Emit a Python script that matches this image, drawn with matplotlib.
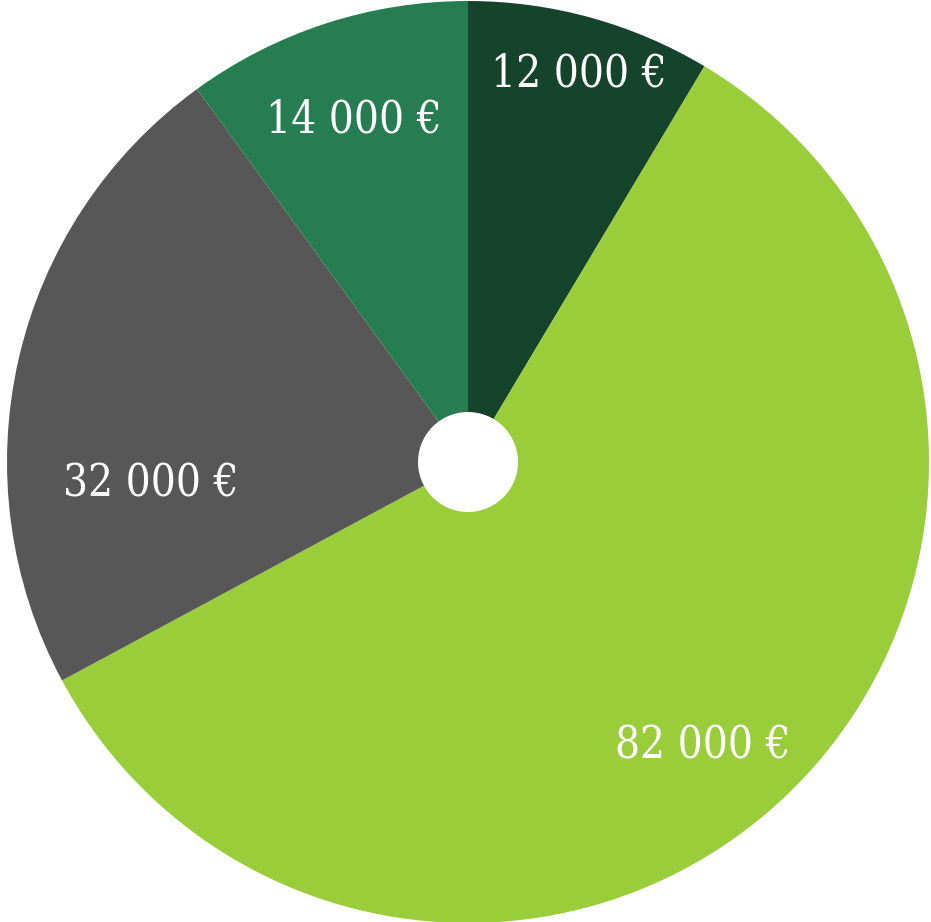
import matplotlib
matplotlib.use("Agg")
import matplotlib.pyplot as plt
from matplotlib.patches import Circle

labels = ["12 000 €", "82 000 €", "32 000 €", "14 000 €"]
values = [12000, 82000, 32000, 14000]
colors = ["#15432b", "#9acd3a", "#575757", "#267d52"]
label_pos = [(0.241, 0.842), (0.510, -0.616), (-0.688, -0.047), (-0.247, 0.742)]

W, H = 931, 922
cx, cy, R = 468, 462, 461
fig = plt.figure(figsize=(W / 100, H / 100), dpi=100)
fig.patch.set_facecolor("white")
ax = fig.add_axes([(cx - R) / W, (H - cy - R) / H, 2 * R / W, 2 * R / H])
ax.set_xlim(-1, 1)
ax.set_ylim(-1, 1)
ax.set_aspect("equal")
ax.axis("off")

ax.pie(values, colors=colors, startangle=90, counterclock=False, radius=1,
       wedgeprops=dict(linewidth=0))
ax.set_xlim(-1, 1)
ax.set_ylim(-1, 1)
ax.add_patch(Circle((0, 0), 50 / R, facecolor="white", edgecolor="none", zorder=5))

for lab, (x, y) in zip(labels, label_pos):
    ax.text(x, y, lab, ha="center", va="center", color="white",
            fontsize=31.5, family="DejaVu Serif", fontstretch="condensed", zorder=6)

fig.savefig("out.png", dpi=100, facecolor="white")
